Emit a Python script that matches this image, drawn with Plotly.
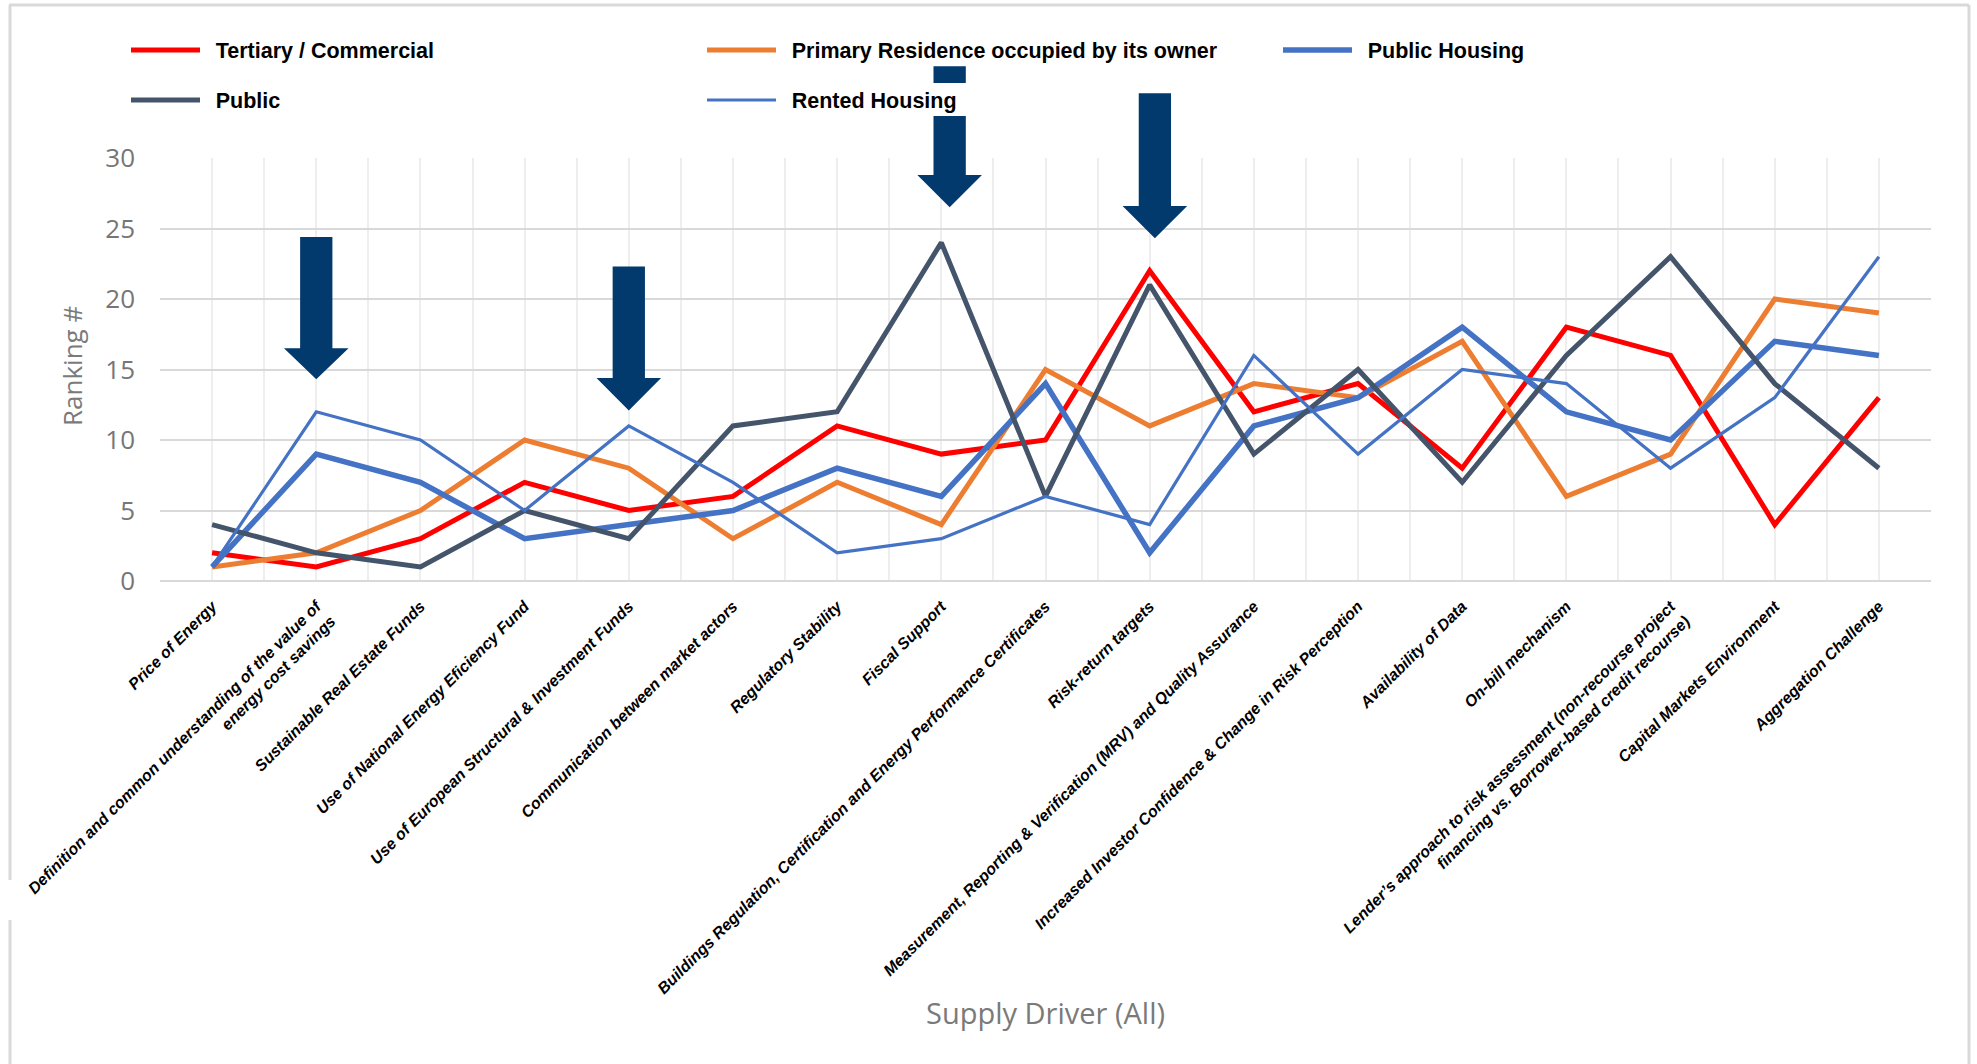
import plotly.graph_objects as go

# Supply drivers (x categories)
drivers = [
    "Price of Energy",
    "Definition and common understanding of the value of<br>energy cost savings",
    "Sustainable Real Estate Funds",
    "Use of National Energy Eficiency Fund",
    "Use of European Structural & Investment Funds",
    "Communication between market actors",
    "Regulatory Stability",
    "Fiscal Support",
    "Buildings Regulation, Certification and Energy Performance Certificates",
    "Risk-return targets",
    "Measurement, Reporting & Verification (MRV) and Quality Assurance",
    "Increased Investor Confidence & Change in Risk Perception",
    "Availability of Data",
    "On-bill mechanism",
    "Lender’s approach to risk assessment (non-recourse project<br>financing vs. Borrower-based credit recourse)",
    "Capital Markets Environment",
    "Aggregation Challenge",
]

# Ranking per segment
tertiary_commercial = [2, 1, 3, 7, 5, 6, 11, 9, 10, 22, 12, 14, 8, 18, 16, 4, 13]
primary_residence = [1, 2, 5, 10, 8, 3, 7, 4, 15, 11, 14, 13, 17, 6, 9, 20, 19]
public_housing = [1, 9, 7, 3, 4, 5, 8, 6, 14, 2, 11, 13, 18, 12, 10, 17, 16]
public = [4, 2, 1, 5, 3, 11, 12, 24, 6, 21, 9, 15, 7, 16, 23, 14, 8]
rented_housing = [1, 12, 10, 5, 11, 7, 2, 3, 6, 4, 16, 9, 15, 14, 8, 13, 23]

y_ticks = [0, 5, 10, 15, 20, 25, 30]

# Highlighted drivers: (category index, shaft top, head base, tip) in ranking units
highlights = [
    (1.0, 24.4, 16.5, 14.3),
    (4.0, 22.3, 14.4, 12.1),
    (7.08, 36.5, 28.8, 26.5),
    (9.05, 34.6, 26.6, 24.3),
]

W, H = 1977, 1064
PL, PR, PT, PB = 160, 1931, 158, 581
N = len(drivers)
X_RANGE = [-0.5, N - 0.5]
Y_RANGE = [0, 30]


def px_x(p):
    return (p - PL) / (PR - PL)


def px_y(p):
    return (PB - p) / (PB - PT)


def data_x(v):
    return (v - X_RANGE[0]) / (X_RANGE[1] - X_RANGE[0])


def data_y(v):
    return (v - Y_RANGE[0]) / (Y_RANGE[1] - Y_RANGE[0])


idx = list(range(N))

series = [
    ("Tertiary / Commercial", tertiary_commercial, "#FF0000", 5, "legend"),
    ("Primary Residence occupied by its owner", primary_residence, "#ED7D31", 5, "legend"),
    ("Public Housing", public_housing, "#4472C4", 5.5, "legend"),
    ("Public", public, "#44546A", 5, "legend2"),
    ("Rented Housing", rented_housing, "#4472C4", 3.2, "legend2"),
]

fig = go.Figure()
for name, vals, color, width, leg in series:
    fig.add_trace(go.Scatter(
        x=idx, y=vals, name="\u2002" + name, mode="lines",
        line=dict(color=color, width=width),
        legend=leg,
    ))

shapes = []
ARROW = "#033A6D"
shaft_half = 0.155
head_half = 0.31
for cx, top, head, tip in highlights:
    pts = [
        (cx - shaft_half, top), (cx + shaft_half, top), (cx + shaft_half, head),
        (cx + head_half, head), (cx, tip), (cx - head_half, head),
        (cx - shaft_half, head),
    ]
    path = "M " + " L ".join(f"{data_x(a):.5f},{data_y(b):.5f}" for a, b in pts) + " Z"
    shapes.append(dict(type="path", path=path, xref="paper", yref="paper",
                       fillcolor=ARROW, line=dict(width=0), layer="above"))

# white gap where the legend label crosses the third arrow
cx = highlights[2][0]
shapes.append(dict(type="rect", xref="paper", yref="paper",
                   x0=data_x(cx - 0.2), x1=data_x(cx + 0.2),
                   y0=px_y(116), y1=px_y(83),
                   fillcolor="white", line=dict(width=0), layer="above"))

# outer frame
FRAME = "#D9D9D9"
for x0, y0, x1, y1 in [
    (9, 5, 1969, 5),
    (1969, 5, 1969, 1080),
    (10, 5, 10, 880),
    (10, 920, 10, 1080),
]:
    shapes.append(dict(type="line", xref="paper", yref="paper",
                       x0=px_x(x0), y0=px_y(y0), x1=px_x(x1), y1=px_y(y1),
                       line=dict(color=FRAME, width=3), layer="above"))

legend_font = dict(family="Liberation Sans, Arial, sans-serif", size=21.5, color="black", weight="bold")
leg_common = dict(orientation="h", xanchor="left", yanchor="middle",
                  bgcolor="rgba(0,0,0,0)", font=legend_font, itemwidth=69,
                  entrywidth=492, traceorder="normal")

title_font = dict(family="Open Sans, sans-serif", size=29, color="#7A7A7A")

fig.update_layout(
    template="none",
    width=W, height=H,
    margin=dict(l=PL, r=W - PR, t=PT, b=H - PB, pad=0),
    paper_bgcolor="white",
    plot_bgcolor="white",
    showlegend=True,
    legend=dict(x=px_x(126), y=px_y(50), **leg_common),
    legend2=dict(x=px_x(126), y=px_y(100), **leg_common),
    shapes=shapes,
    annotations=[
        dict(text="Supply Driver (All)", xref="paper", yref="paper",
             x=px_x(1045), y=px_y(1013), xanchor="center", yanchor="middle",
             showarrow=False, font=title_font),
        dict(text="Ranking #", xref="paper", yref="paper",
             x=px_x(72), y=px_y(366), xanchor="center", yanchor="middle",
             textangle=-90, showarrow=False,
             font=dict(family="Open Sans, sans-serif", size=26, color="#7A7A7A")),
    ],
)

fig.update_xaxes(
    range=X_RANGE, tickmode="array", tickvals=idx, ticktext=drivers,
    tickangle=-45, automargin=False, showline=False, zeroline=False,
    showgrid=True, gridcolor="#EEEEEE", gridwidth=1.5, ticks="",
    ticklabelstandoff=12,
    tickfont=dict(family="Liberation Sans, Arial, sans-serif", size=16,
                  color="black", weight="bold", style="italic"),
    minor=dict(tickmode="array", tickvals=[i - 0.5 for i in range(N + 1)],
               showgrid=True, gridcolor="#EEEEEE", gridwidth=1.5, ticks=""),
)
fig.update_yaxes(
    range=Y_RANGE, tickmode="array", tickvals=y_ticks, automargin=False,
    showline=False, zeroline=True, zerolinecolor="#D9D9D9", zerolinewidth=2,
    showgrid=True, gridcolor="#D9D9D9", gridwidth=2, ticks="",
    ticklabelstandoff=24,
    tickfont=dict(family="Open Sans, sans-serif", size=26, color="#767676"),
)

fig.write_html("out.html")
